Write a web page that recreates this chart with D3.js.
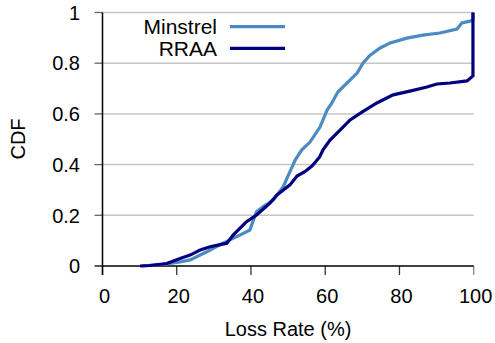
<!DOCTYPE html>
<html>
<head>
<meta charset="utf-8">
<script src="https://cdn.jsdelivr.net/npm/d3@7"></script>
<style>
  body { margin: 0; background: #fff; }
  text { font-family: "Liberation Sans", Arial, sans-serif; fill: #000; }
</style>
</head>
<body>
<div id="chart"></div>
<script>
var width = 495,
    height = 343;

// loss rate (%) / cdf
var minstrelLoss = [10.6, 17.3, 20.9, 23.6, 28.1, 32.5, 37.0, 39.7, 40.5, 41.5, 43.3, 46.0, 48.7, 50.5, 51.9, 53.7, 55.9, 58.6, 60.5, 61.8, 63.4, 65.9, 68.6, 70.2, 72.1, 74.8, 77.5, 82.0, 86.3, 90.9, 95.5, 96.8, 99.0, 99.8, 99.8];
var minstrelCdf  = [0, 0.008, 0.016, 0.024, 0.056, 0.090, 0.122, 0.142, 0.175, 0.214, 0.234, 0.260, 0.313, 0.372, 0.418, 0.458, 0.489, 0.548, 0.615, 0.643, 0.686, 0.722, 0.761, 0.801, 0.832, 0.860, 0.880, 0.899, 0.911, 0.919, 0.935, 0.959, 0.966, 0.97, 1.0];

var rraaLoss = [10.1, 12.8, 17.3, 20.9, 23.6, 26.3, 29.0, 33.5, 35.2, 38.8, 41.5, 45.1, 47.0, 50.5, 52.4, 54.5, 56.5, 58.5, 59.4, 61.3, 64.0, 66.7, 69.9, 73.9, 78.3, 82.8, 87.4, 90.1, 93.6, 98.2, 99.5, 99.8, 99.8];
var rraaCdf  = [0, 0.002, 0.010, 0.030, 0.043, 0.063, 0.076, 0.090, 0.122, 0.175, 0.201, 0.248, 0.280, 0.320, 0.355, 0.372, 0.395, 0.430, 0.458, 0.497, 0.536, 0.576, 0.607, 0.643, 0.675, 0.690, 0.706, 0.718, 0.722, 0.730, 0.746, 0.75, 1.0];

var xTicks = [0, 20, 40, 60, 80, 100];
var yTicks = [0, 0.2, 0.4, 0.6, 0.8, 1];
var seriesNames = ["Minstrel", "RRAA"];
var seriesColors = ["#4b8bc3", "#000080"];

var svg = d3.select("#chart")
    .append("svg")
    .attr("width", width)
    .attr("height", height);

var x = d3.scaleLinear().domain([0, 100]).range([102.5, 473.7]);
var y = d3.scaleLinear().domain([0, 1]).range([266, 12.5]);

// gridlines
svg.selectAll(".grid")
  .data(yTicks.filter(function(d) { return d > 0; }))
  .enter().append("line")
  .attr("class", "grid")
  .attr("x1", x(0))
  .attr("x2", x(100))
  .attr("y1", function(d) { return y(d); })
  .attr("y2", function(d) { return y(d); })
  .attr("stroke", "#c6c6c6")
  .attr("stroke-width", 1.5);

// y ticks
svg.selectAll(".ytick")
  .data(yTicks)
  .enter().append("line")
  .attr("x1", x(0) - 8)
  .attr("x2", x(0))
  .attr("y1", function(d) { return y(d); })
  .attr("y2", function(d) { return y(d); })
  .attr("stroke", function(d) { return d === 0 ? "#000" : "#666"; })
  .attr("stroke-width", 1.3);

svg.selectAll(".ylabel")
  .data(yTicks)
  .enter().append("text")
  .attr("x", 80)
  .attr("y", function(d) { return y(d); })
  .attr("dy", "0.36em")
  .attr("text-anchor", "end")
  .style("font-size", "20px")
  .text(function(d) { return d === 0 || d === 1 ? d : d.toFixed(1); });

// x ticks
svg.selectAll(".xtick")
  .data(xTicks)
  .enter().append("line")
  .attr("x1", function(d) { return x(d); })
  .attr("x2", function(d) { return x(d); })
  .attr("y1", y(0))
  .attr("y2", y(0) + 9)
  .attr("stroke", function(d) { return d === 100 ? "#888" : "#333"; })
  .attr("stroke-width", 1.3);

svg.selectAll(".xlabel")
  .data(xTicks)
  .enter().append("text")
  .attr("x", function(d) { return x(d) + 2; })
  .attr("y", 303)
  .attr("text-anchor", "middle")
  .style("font-size", "20px")
  .text(function(d) { return d; });

// axes lines
svg.append("line")
  .attr("x1", x(0)).attr("x2", x(0))
  .attr("y1", y(1)).attr("y2", y(0) + 9)
  .attr("stroke", "#000").attr("stroke-width", 1.5);
svg.append("line")
  .attr("x1", x(0)).attr("x2", x(100))
  .attr("y1", y(0)).attr("y2", y(0))
  .attr("stroke", "#000").attr("stroke-width", 1.5);

svg.append("text")
  .attr("x", 288)
  .attr("y", 336)
  .attr("text-anchor", "middle")
  .style("font-size", "20px")
  .text("Loss Rate (%)");

svg.append("text")
  .attr("transform", "translate(25,139)rotate(-90)")
  .attr("text-anchor", "middle")
  .style("font-size", "20px")
  .text("CDF");

var line = d3.line()
  .x(function(d) { return x(d[0]); })
  .y(function(d) { return y(d[1]); });

var series = [
  d3.zip(minstrelLoss, minstrelCdf),
  d3.zip(rraaLoss, rraaCdf)
];

svg.selectAll(".curve")
  .data(series)
  .enter().append("path")
  .attr("class", "curve")
  .attr("d", line)
  .attr("fill", "none")
  .attr("stroke", function(d, i) { return seriesColors[i]; })
  .attr("stroke-width", 3.2)
  .attr("stroke-linejoin", "miter");

// legend
var legend = svg.selectAll(".legend")
  .data(seriesNames)
  .enter().append("g")
  .attr("transform", function(d, i) { return "translate(0," + (26.7 + i * 21.6) + ")"; });

legend.append("text")
  .attr("x", 217)
  .attr("dy", "0.36em")
  .attr("text-anchor", "end")
  .style("font-size", "21px")
  .text(function(d) { return d; });

legend.append("line")
  .attr("x1", 230)
  .attr("x2", 285)
  .attr("stroke", function(d, i) { return seriesColors[i]; })
  .attr("stroke-width", 3.3);
</script>
</body>
</html>
